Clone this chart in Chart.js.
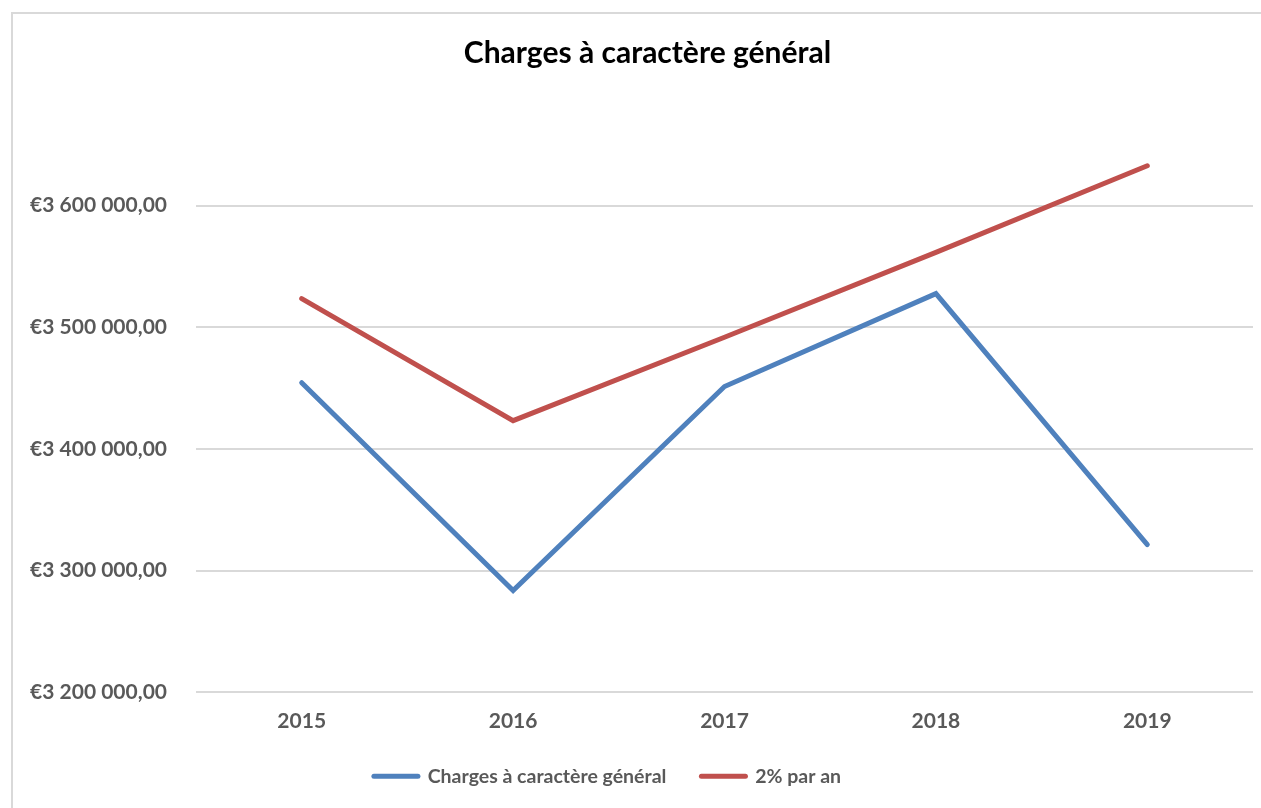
<!DOCTYPE html>
<html>
<head>
<meta charset="utf-8">
<script src="https://cdn.jsdelivr.net/npm/chart.js@4/dist/chart.umd.min.js"></script>
<style>
  html, body { margin: 0; padding: 0; background: #fff; overflow: hidden; }
  #frame {
    position: absolute; left: 11px; top: 12px;
    width: 1262px; height: 810px;
    border: 2px solid #d9d9d9;
  }
  #chart { position: absolute; left: 0; top: 0; }
</style>
</head>
<body>
<div id="frame"></div>
<canvas id="chart" width="1261" height="808"></canvas>
<script>
// data
const years = ['2015', '2016', '2017', '2018', '2019'];
const charges = [3454500, 3283600, 3451300, 3527700, 3321400];
const plus2pct = [3523600, 3423300, 3491800, 3561600, 3632800];
const yTicks = [3200000, 3300000, 3400000, 3500000, 3600000, 3700000];

const fontFam = 'Lato, "Open Sans", sans-serif';
const grey = '#595959';

function euro(v) {
  // €3 600 000,00
  let s = String(Math.round(v)).replace(/\B(?=(\d{3})+(?!\d))/g, ' ');
  return '€' + s + ',00';
}

// the original legend hugs the x labels and sits left of the title
const legendShrink = 18;
const nudge = {
  id: 'nudge',
  afterInit: function(chart) {
    let legend = chart.legend;
    let fit = legend.fit;
    legend.fit = function() {
      fit.call(this);
      this.height -= legendShrink;
    };
  },
  afterLayout: function(chart) {
    chart.titleBlock.left += 42;
    chart.legend.right -= 38;
    chart.legend.top -= legendShrink;
  }
};

let ctx = document.getElementById('chart');
let chart = new Chart(ctx, {
  type: 'line',
  data: {
    labels: years,
    datasets: [{
      label: 'Charges à caractère général',
      data: charges,
      borderColor: '#4f81bd',
      backgroundColor: '#4f81bd',
      borderWidth: 5,
      borderCapStyle: 'round',
      pointRadius: 0,
      tension: 0
    }, {
      label: '2% par an',
      data: plus2pct,
      borderColor: '#c0504d',
      backgroundColor: '#c0504d',
      borderWidth: 5,
      borderCapStyle: 'round',
      pointRadius: 0,
      tension: 0
    }]
  },
  options: {
    responsive: false,
    animation: false,
    devicePixelRatio: 1,
    layout: { padding: { left: 0, right: 8, top: 0, bottom: 12 } },
    plugins: {
      title: {
        display: true,
        text: 'Charges à caractère général',
        color: '#000',
        font: { family: fontFam, size: 30, weight: 'bold' },
        padding: { top: 35, bottom: 13 }
      },
      legend: {
        position: 'bottom',
        labels: {
          color: grey,
          font: { family: fontFam, size: 19.5, weight: 'bold' },
          usePointStyle: true,
          pointStyleWidth: 44,
          padding: 35,
          generateLabels: function(c) {
            return c.data.datasets.map((ds, i) => ({
              text: ds.label,
              pointStyle: 'line',
              fillStyle: ds.borderColor,
              strokeStyle: ds.borderColor,
              lineWidth: 5,
              lineCap: 'round',
              fontColor: grey,
              datasetIndex: i
            }));
          }
        }
      },
      tooltip: { enabled: false }
    },
    scales: {
      x: {
        offset: true,
        grid: { display: false, drawTicks: false },
        border: { display: false },
        ticks: {
          color: grey,
          padding: 16,
          maxRotation: 0,
          font: { family: fontFam, size: 21, weight: 'bold' }
        }
      },
      y: {
        min: yTicks[0],
        max: yTicks[yTicks.length - 1],
        afterBuildTicks: function(scale) {
          scale.ticks = yTicks.map(v => ({ value: v }));
        },
        afterFit: function(scale) { scale.width = 196; },
        grid: {
          drawTicks: false,
          lineWidth: 2,
          color: function(c) {
            return c.tick && c.tick.value === 3700000 ? 'rgba(0,0,0,0)' : '#d9d9d9';
          }
        },
        border: { display: false },
        ticks: {
          color: grey,
          padding: 29,
          font: { family: fontFam, size: 21, weight: 'bold' },
          callback: function(v) { return v === 3700000 ? '' : euro(v); }
        }
      }
    }
  },
  plugins: [nudge]
});
</script>
</body>
</html>
